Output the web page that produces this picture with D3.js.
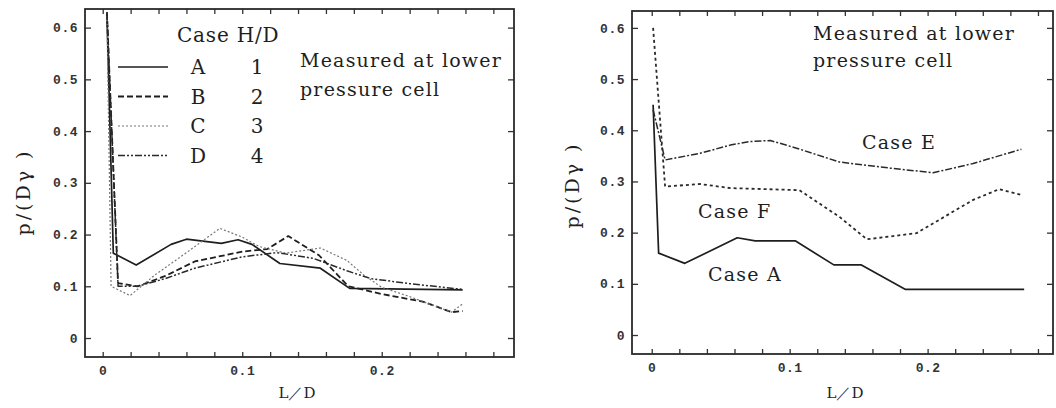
<!DOCTYPE html>
<html>
<head>
<meta charset="utf-8">
<script src="https://cdn.jsdelivr.net/npm/d3@7"></script>
<style>
  body { margin: 0; background: #fff; }
  svg { display: block; }
  .lbl { font-family: "DejaVu Serif", serif; fill: #1e1e1e; }
  .tick text { font-family: "Liberation Mono", monospace; font-weight: bold; font-size: 13px; fill: #333; letter-spacing: 0.5px; }
</style>
</head>
<body>
<script>
const WIDTH = 1056
const HEIGHT = 408

// left panel: Case A..D, H/D = 1..4
const caseA = [[0.003, 0.63], [0.0076, 0.164], [0.024, 0.141], [0.049, 0.181], [0.06, 0.191], [0.085, 0.183],
  [0.097, 0.19], [0.107, 0.181], [0.127, 0.144], [0.156, 0.135], [0.177, 0.096], [0.258, 0.093]]
const caseB = [[0.003, 0.63], [0.011, 0.106], [0.025, 0.1], [0.045, 0.12], [0.066, 0.148], [0.1, 0.167],
  [0.118, 0.172], [0.133, 0.197], [0.155, 0.16], [0.176, 0.1], [0.2, 0.085], [0.23, 0.07], [0.25, 0.05], [0.258, 0.052]]
const caseC = [[0.003, 0.63], [0.006, 0.1], [0.0196, 0.082], [0.0375, 0.122], [0.06, 0.165], [0.084, 0.212],
  [0.1, 0.195], [0.112, 0.177], [0.131, 0.164], [0.156, 0.174], [0.175, 0.15], [0.187, 0.122], [0.2, 0.098],
  [0.22, 0.08], [0.242, 0.058], [0.25, 0.05], [0.258, 0.066]]
const caseD = [[0.003, 0.63], [0.011, 0.1], [0.025, 0.1], [0.045, 0.115], [0.066, 0.135], [0.1, 0.157],
  [0.125, 0.165], [0.151, 0.154], [0.175, 0.13], [0.192, 0.115], [0.22, 0.105], [0.258, 0.094]]

// right panel: Case A, E, F
const caseA2 = [[0.001, 0.45], [0.005, 0.16], [0.024, 0.14], [0.062, 0.19], [0.075, 0.184], [0.104, 0.184],
  [0.132, 0.137], [0.152, 0.137], [0.184, 0.089], [0.27, 0.089]]
const caseE = [[0.001, 0.44], [0.0097, 0.342], [0.035, 0.355], [0.057, 0.371], [0.071, 0.378], [0.086, 0.38],
  [0.105, 0.365], [0.136, 0.338], [0.173, 0.326], [0.204, 0.317], [0.233, 0.335], [0.268, 0.363]]
const caseF = [[0.001, 0.6], [0.0097, 0.29], [0.035, 0.295], [0.057, 0.287], [0.107, 0.283], [0.136, 0.231],
  [0.156, 0.187], [0.192, 0.199], [0.233, 0.264], [0.252, 0.285], [0.269, 0.273]]

const xTickValues = [0, 0.02, 0.04, 0.06, 0.08, 0.1, 0.12, 0.14, 0.16, 0.18, 0.2, 0.22, 0.24, 0.26, 0.28]
const xTickLabels = { 0: '0', 0.1: '0.1', 0.2: '0.2' }
const yTickValues = [0, 0.1, 0.2, 0.3, 0.4, 0.5, 0.6]

const legendRows = [
  { name: 'A', hd: '1', style: 'solid' },
  { name: 'B', hd: '2', style: 'dashB' },
  { name: 'C', hd: '3', style: 'dotC' },
  { name: 'D', hd: '4', style: 'dashD' }
]

const styles = {
  solid: { dash: null, width: 1.7, color: '#1e1e1e' },
  dashB: { dash: '6,3', width: 1.8, color: '#1e1e1e' },
  dotC: { dash: '2,2', width: 1.2, color: '#777' },
  dashD: { dash: '7,2,2,2,2,2', width: 1.5, color: '#2a2a2a' },
  dashE: { dash: '7,2,2,2', width: 1.5, color: '#2a2a2a' },
  dashF: { dash: '3,3', width: 1.8, color: '#2a2a2a' }
}

const svg = d3.select('body').append('svg')
  .attr('width', WIDTH)
  .attr('height', HEIGHT)

function drawPanel(p) {
  const x = d3.scaleLinear().domain(p.xDomain).range([p.left, p.right])
  const y = d3.scaleLinear().domain(p.yDomain).range([p.bottom, p.top])
  const g = svg.append('g')

  const fmt = (d) => xTickLabels[Math.round(d * 100) / 100] || ''

  g.append('g')
    .attr('transform', `translate(0,${p.bottom})`)
    .call(d3.axisBottom(x).tickValues(xTickValues).tickSize(-5).tickPadding(9).tickFormat(fmt))
  g.append('g')
    .attr('transform', `translate(0,${p.top})`)
    .call(d3.axisTop(x).tickValues(xTickValues).tickSize(-5).tickFormat(''))
  g.append('g')
    .attr('transform', `translate(${p.left},0)`)
    .call(d3.axisLeft(y).tickValues(yTickValues).tickSize(-6).tickPadding(7).tickFormat((d) => d === 0 ? '0' : d3.format('.1f')(d)))
  g.append('g')
    .attr('transform', `translate(${p.right},0)`)
    .call(d3.axisRight(y).tickValues(yTickValues).tickSize(-6).tickFormat(''))

  g.selectAll('.domain').remove()
  g.selectAll('.tick line').attr('stroke', '#333').attr('stroke-width', 1.3)

  // frame
  g.append('rect')
    .attr('x', p.left).attr('y', p.top)
    .attr('width', p.right - p.left).attr('height', p.bottom - p.top)
    .attr('fill', 'none').attr('stroke', '#2a2a2a').attr('stroke-width', 1.8)

  const clipId = `clip${p.id}`
  svg.append('clipPath').attr('id', clipId).append('rect')
    .attr('x', p.left).attr('y', p.top)
    .attr('width', p.right - p.left).attr('height', p.bottom - p.top)

  const line = d3.line().x((d) => x(d[0])).y((d) => y(d[1]))
  p.series.forEach((s) => {
    const st = styles[s.style]
    g.append('path')
      .attr('clip-path', `url(#${clipId})`)
      .attr('d', line(s.data))
      .attr('fill', 'none')
      .attr('stroke', st.color)
      .attr('stroke-width', st.width)
      .attr('stroke-dasharray', st.dash)
      .attr('stroke-linejoin', 'round')
  })

  // axis titles
  g.append('text').attr('class', 'lbl')
    .attr('transform', `translate(${p.yTitleX},${p.yTitleY}) rotate(-90)`)
    .attr('text-anchor', 'middle').attr('font-size', 19).attr('letter-spacing', 3)
    .text('p/(Dγ )')
  g.append('text').attr('class', 'lbl')
    .attr('x', p.xTitleX).attr('y', 398)
    .attr('text-anchor', 'middle').attr('font-size', 15)
    .text('L／D')

  return { g, x, y }
}

const left = drawPanel({
  id: 'L', left: 85, right: 514, top: 9, bottom: 357,
  xDomain: [-0.0127, 0.2948], yDomain: [-0.0367, 0.636],
  yTitleX: 30, yTitleY: 192, xTitleX: 297,
  series: [
    { data: caseA, style: 'solid' },
    { data: caseB, style: 'dashB' },
    { data: caseC, style: 'dotC' },
    { data: caseD, style: 'dashD' }
  ]
})

const right = drawPanel({
  id: 'R', left: 632, right: 1053, top: 11, bottom: 354,
  xDomain: [-0.0143, 0.2909], yDomain: [-0.0371, 0.633],
  yTitleX: 579, yTitleY: 185, xTitleX: 845,
  series: [
    { data: caseA2, style: 'solid' },
    { data: caseE, style: 'dashE' },
    { data: caseF, style: 'dashF' }
  ]
})

// legend, left panel
const lg = left.g
lg.append('text').attr('class', 'lbl').attr('x', 177).attr('y', 42).attr('font-size', 20)
  .attr('letter-spacing', 0.8).text('Case H/D')
legendRows.forEach((r, i) => {
  const cy = 67 + i * 29.5
  const st = styles[r.style]
  lg.append('line')
    .attr('x1', 118).attr('x2', 168).attr('y1', cy).attr('y2', cy)
    .attr('stroke', st.color).attr('stroke-width', st.width).attr('stroke-dasharray', st.dash)
  lg.append('text').attr('class', 'lbl').attr('x', 198).attr('y', cy + 7)
    .attr('text-anchor', 'middle').attr('font-size', 20).text(r.name)
  lg.append('text').attr('class', 'lbl').attr('x', 257).attr('y', cy + 7)
    .attr('text-anchor', 'middle').attr('font-size', 20).text(r.hd)
})

const note = (g, x, y, t) => g.append('text').attr('class', 'lbl')
  .attr('x', x).attr('y', y).attr('font-size', 19).attr('letter-spacing', 1.2).text(t)

note(lg, 300, 67, 'Measured at lower')
note(lg, 300, 96, 'pressure cell')

// annotations, right panel
const rg = right.g
note(rg, 813, 40, 'Measured at lower')
note(rg, 813, 67, 'pressure cell')
note(rg, 862, 149, 'Case E')
note(rg, 698, 218, 'Case F')
note(rg, 708, 281, 'Case A')
</script>
</body>
</html>
